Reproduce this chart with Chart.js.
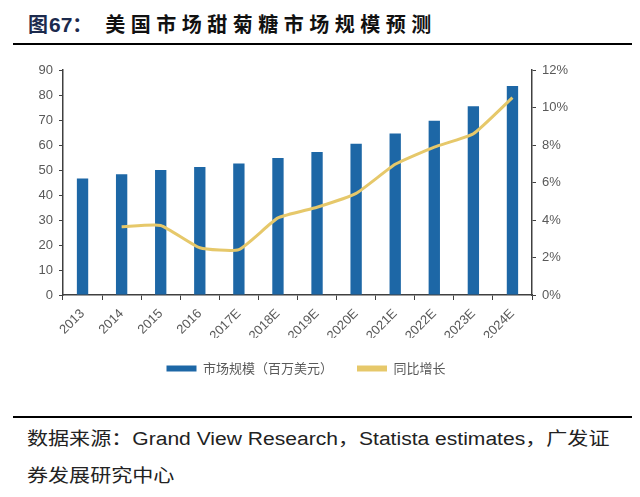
<!DOCTYPE html>
<html>
<head>
<meta charset="utf-8">
<script src="https://cdn.jsdelivr.net/npm/chart.js@4"></script>
<style>
  body { margin: 0; background: #fff; }
  #page { position: relative; width: 640px; height: 497px; overflow: hidden; background: #fff; }
  #title { position: absolute; left: 28px; top: 9px; font-family: "Noto Sans CJK SC", sans-serif; font-size: 20px; font-weight: bold; color: #111; letter-spacing: 5.5px; white-space: nowrap; }
  #title .num { font-family: "Liberation Sans", Arial, sans-serif; color: #1c2a4d; letter-spacing: 0; font-size: 21px; }
  #title .fig { color: #1c2a4d; letter-spacing: 1px; }
  #title .colon { color: #1c2a4d; letter-spacing: 13px; }
  .rule { position: absolute; left: 13px; width: 619px; background: #000; }
  #chartBox { position: absolute; left: 0; top: 48px; width: 640px; height: 352px; }
  #source { position: absolute; left: 27px; top: 421px; font-family: "Liberation Sans", "Noto Sans CJK SC", sans-serif; font-size: 18px; line-height: 37px; color: #222; white-space: nowrap; transform: scaleX(1.17); transform-origin: left top; }
</style>
</head>
<body>
<div id="page">
  <div id="title"><span class="fig">图</span><span class="num">67</span><span class="colon">：</span>美国市场甜菊糖市场规模预测</div>
  <div class="rule" style="top:43px;height:2px;"></div>
  <div id="chartBox"><canvas id="chart"></canvas></div>
  <div class="rule" style="top:416px;height:2px;"></div>
  <div id="source">数据来源：Grand View Research，Statista estimates，广发证<br>券发展研究中心</div>
</div>
<script>
// data
const years = ['2013', '2014', '2015', '2016', '2017E', '2018E', '2019E', '2020E', '2021E', '2022E', '2023E', '2024E'];
const marketSize = [46.6, 48.3, 50.0, 51.2, 52.6, 54.8, 57.2, 60.5, 64.6, 69.7, 75.5, 83.6];
const yoyGrowth = [null, 3.64, 3.71, 2.52, 2.42, 4.11, 4.68, 5.42, 6.97, 7.89, 8.60, 10.53];
const sizeLabel = '市场规模（百万美元）';
const growthLabel = '同比增长';

const blue = '#1d67a6';
const yellow = '#e6c86a';
const axisColor = '#404040';
const tickColor = '#595959';
const tickFont = { family: '"Liberation Sans", Arial, sans-serif', size: 13 };

const ctx = document.getElementById('chart').getContext('2d');
new Chart(ctx, {
    type: 'bar',
    data: {
        labels: years,
        datasets: [
            {
                type: 'bar',
                label: sizeLabel,
                data: marketSize,
                backgroundColor: blue,
                barPercentage: 0.29,
                categoryPercentage: 1,
                yAxisID: 'y',
                order: 2
            },
            {
                type: 'line',
                label: growthLabel,
                data: yoyGrowth,
                borderColor: yellow,
                backgroundColor: yellow,
                borderWidth: 3,
                pointRadius: 0,
                tension: 0.15,
                yAxisID: 'y1',
                order: 1
            }
        ]
    },
    options: {
        responsive: true,
        maintainAspectRatio: false,
        animation: false,
        layout: { padding: { top: 22, left: 0, right: 28, bottom: 15 } },
        plugins: {
            tooltip: { enabled: false },
            legend: {
                position: 'bottom',
                labels: {
                    boxWidth: 30,
                    boxHeight: 6,
                    padding: 24,
                    color: tickColor,
                    font: { family: '"Noto Sans CJK SC", sans-serif', size: 13 },
                    generateLabels: () => [
                        { text: sizeLabel, fillStyle: blue, strokeStyle: blue, lineWidth: 0, datasetIndex: 0, hidden: false, fontColor: tickColor },
                        { text: growthLabel, fillStyle: yellow, strokeStyle: yellow, lineWidth: 0, datasetIndex: 1, hidden: false, fontColor: tickColor }
                    ]
                }
            }
        },
        scales: {
            x: {
                grid: { display: true, drawOnChartArea: false, drawTicks: true, tickLength: 5, color: axisColor },
                border: { color: axisColor, width: 1.5 },
                ticks: { color: tickColor, font: tickFont, minRotation: 45, maxRotation: 45, padding: 6 },
                afterFit: (s) => { s.height = 43; }
            },
            y: {
                position: 'left',
                min: 0,
                max: 90,
                ticks: { stepSize: 10, color: tickColor, font: tickFont, padding: 6 },
                grid: { display: true, drawOnChartArea: false, tickLength: 4, color: axisColor },
                border: { color: axisColor, width: 1.5 },
                afterFit: (s) => { s.width = 63; }
            },
            y1: {
                position: 'right',
                min: 0,
                max: 12,
                ticks: { stepSize: 2, color: tickColor, font: tickFont, padding: 6, callback: (v) => v + '%' },
                grid: { display: true, drawOnChartArea: false, tickLength: 4, color: axisColor },
                border: { color: axisColor, width: 1.5 },
                afterFit: (s) => { s.width = 80; }
            }
        }
    }
});
</script>
</body>
</html>
